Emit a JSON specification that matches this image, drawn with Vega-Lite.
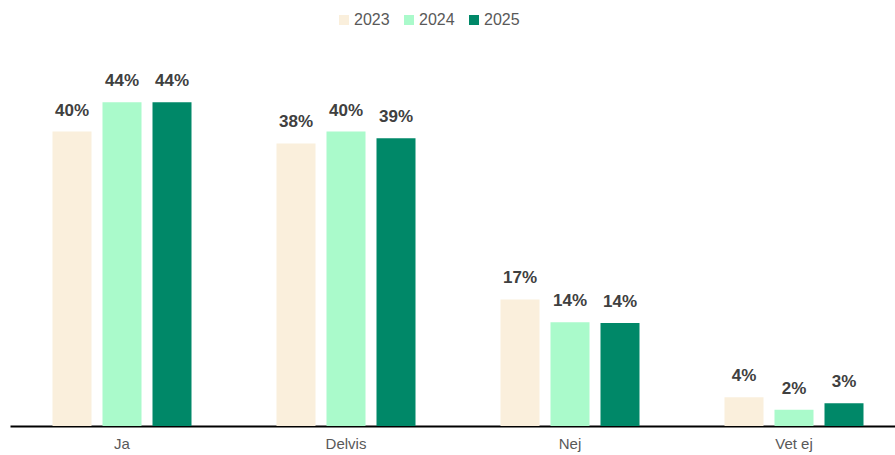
{
  "$schema": "https://vega.github.io/schema/vega-lite/v6.json",
  "width": 896,
  "height": 368,
  "autosize": {"type": "none"},
  "padding": {"left": 10, "top": 58, "right": 0, "bottom": 29},
  "config": {"view": {"stroke": null}, "font": "Liberation Sans"},
  "data": {
    "values": [
      {"kategori": "Ja", "år": "2023", "andel": 0.400},
      {"kategori": "Ja", "år": "2024", "andel": 0.440},
      {"kategori": "Ja", "år": "2025", "andel": 0.440},
      {"kategori": "Delvis", "år": "2023", "andel": 0.384},
      {"kategori": "Delvis", "år": "2024", "andel": 0.400},
      {"kategori": "Delvis", "år": "2025", "andel": 0.391},
      {"kategori": "Nej", "år": "2023", "andel": 0.172},
      {"kategori": "Nej", "år": "2024", "andel": 0.141},
      {"kategori": "Nej", "år": "2025", "andel": 0.140},
      {"kategori": "Vet ej", "år": "2023", "andel": 0.039},
      {"kategori": "Vet ej", "år": "2024", "andel": 0.022},
      {"kategori": "Vet ej", "år": "2025", "andel": 0.031}
    ]
  },
  "encoding": {
    "x": {
      "field": "kategori",
      "type": "nominal",
      "sort": ["Ja", "Delvis", "Nej", "Vet ej"],
      "scale": {"paddingInner": 0, "paddingOuter": 0},
      "axis": {
        "title": null,
        "labelAngle": 0,
        "ticks": false,
        "domainColor": "#000000",
        "domainWidth": 2,
        "labelFontSize": 15,
        "labelColor": "#595959",
        "labelPadding": 10
      }
    },
    "xOffset": {
      "field": "år",
      "type": "nominal",
      "scale": {"paddingInner": 0.22, "paddingOuter": 0.85}
    },
    "y": {
      "field": "andel",
      "type": "quantitative",
      "scale": {"domain": [0, 0.5]},
      "axis": null
    }
  },
  "layer": [
    {
      "mark": {"type": "bar"},
      "encoding": {
        "color": {
          "field": "år",
          "type": "nominal",
          "scale": {"domain": ["2023", "2024", "2025"], "range": ["#FAEFDC", "#AAFACB", "#008868"]},
          "legend": {
            "title": null,
            "orient": "none",
            "direction": "horizontal",
            "legendX": 326,
            "legendY": -46,
            "symbolType": "square",
            "symbolSize": 100,
            "symbolStrokeWidth": 0,
            "labelFontSize": 16,
            "labelColor": "#595959",
            "labelOffset": 2,
            "columnPadding": 11,
            "padding": 0
          }
        }
      }
    },
    {
      "mark": {"type": "text", "dy": -16, "baseline": "alphabetic", "fontWeight": "bold", "fontSize": 17, "color": "#404040"},
      "encoding": {
        "text": {"field": "andel", "type": "quantitative", "format": ".0%"}
      }
    }
  ]
}
